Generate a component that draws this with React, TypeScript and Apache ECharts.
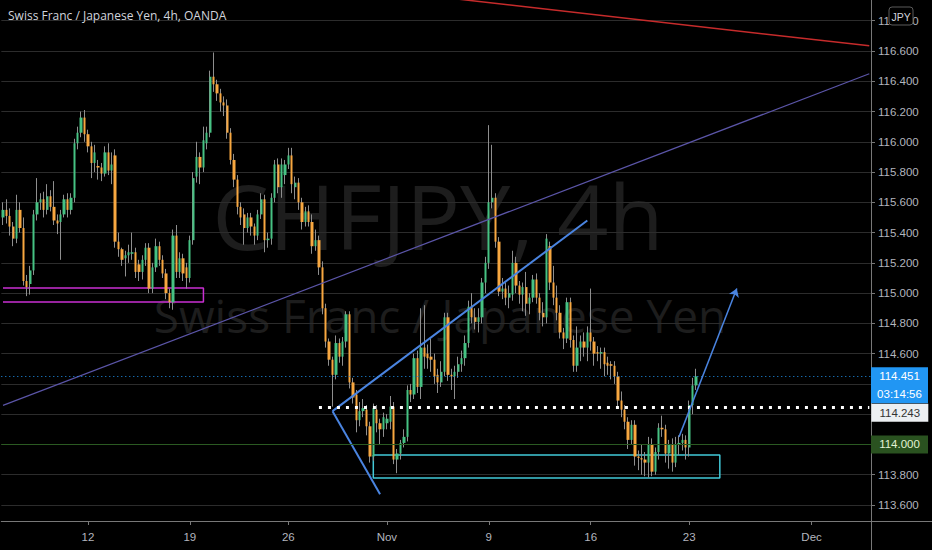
import React, { useEffect, useRef } from 'react';
import * as echarts from 'echarts';

// ---------- data ----------
const barCount = 256;
const tickIndex = [25, 55, 84, 113, 143, 173, 202, 238];
const tickLabels = ['12', '19', '26', 'Nov', '9', '16', '23', 'Dec'];
const priceTicks = [113.6, 113.8, 114.0, 114.2, 114.4, 114.6, 114.8, 115.0, 115.2, 115.4, 115.6, 115.8, 116.0, 116.2, 116.4, 116.6, 116.8];
// labels hidden behind the price boxes on the right axis are not drawn
const priceLabels = [113.6, 113.8, 114.6, 114.8, 115.0, 115.2, 115.4, 115.6, 115.8, 116.0, 116.2, 116.4, 116.6, 116.8];
const priceMin = 113.494;
const priceMax = 116.937;

// [open, close, low, high]
const candles: number[][] = [
  [115.50, 115.55, 115.45, 115.60], [115.55, 115.51, 115.46, 115.62], [115.51, 115.44, 115.38, 115.56], [115.44, 115.36, 115.31, 115.47],
  [115.36, 115.55, 115.33, 115.65], [115.55, 115.43, 115.40, 115.60], [115.43, 115.08, 115.05, 115.50], [115.08, 115.04, 114.98, 115.12],
  [115.06, 115.15, 114.99, 115.18], [115.15, 115.52, 115.12, 115.55], [115.52, 115.60, 115.48, 115.76], [115.60, 115.62, 115.55, 115.66],
  [115.62, 115.55, 115.50, 115.67], [115.55, 115.64, 115.52, 115.72], [115.64, 115.57, 115.54, 115.68], [115.57, 115.48, 115.45, 115.74],
  [115.48, 115.46, 115.39, 115.52], [115.47, 115.52, 115.22, 115.55], [115.52, 115.62, 115.50, 115.65], [115.62, 115.55, 115.50, 115.66],
  [115.55, 115.63, 115.52, 115.66], [115.63, 115.99, 115.60, 116.02], [115.99, 116.06, 115.95, 116.10], [116.06, 116.16, 116.03, 116.20],
  [116.16, 116.05, 116.00, 116.21], [116.05, 115.97, 115.93, 116.08], [115.97, 115.86, 115.76, 116.00], [115.86, 115.93, 115.80, 115.98],
  [115.84, 115.83, 115.75, 115.88], [115.83, 115.79, 115.74, 115.86], [115.79, 115.93, 115.77, 115.97], [115.93, 115.81, 115.78, 115.99],
  [115.81, 115.85, 115.72, 115.93], [115.91, 115.34, 115.30, 115.95], [115.34, 115.29, 115.24, 115.40], [115.29, 115.22, 115.18, 115.30],
  [115.23, 115.25, 115.11, 115.28], [115.25, 115.27, 115.20, 115.32], [115.26, 115.27, 115.22, 115.40], [115.27, 115.14, 115.10, 115.30],
  [115.19, 115.14, 115.08, 115.22], [115.14, 115.22, 115.09, 115.25], [115.22, 115.30, 115.18, 115.33], [115.30, 115.03, 115.00, 115.33],
  [115.03, 115.17, 115.00, 115.20], [115.17, 115.31, 115.14, 115.36], [115.31, 115.22, 115.18, 115.34], [115.22, 115.13, 115.10, 115.25],
  [115.13, 115.00, 114.96, 115.16], [115.00, 114.94, 114.90, 115.03], [114.94, 115.38, 114.89, 115.42], [115.38, 115.14, 115.10, 115.45],
  [115.14, 115.23, 115.10, 115.27], [115.23, 115.13, 115.08, 115.26], [115.17, 115.10, 115.03, 115.20], [115.10, 115.35, 115.07, 115.38],
  [115.35, 115.76, 115.32, 115.80], [115.77, 115.90, 115.73, 116.00], [115.90, 115.83, 115.72, 115.93], [115.83, 116.01, 115.80, 116.10],
  [115.99, 116.06, 115.95, 116.10], [116.06, 116.43, 116.03, 116.47], [116.43, 116.38, 116.33, 116.59], [116.38, 116.32, 116.27, 116.41],
  [116.32, 116.26, 116.20, 116.35], [116.26, 116.24, 116.17, 116.30], [116.24, 116.06, 116.02, 116.28], [116.06, 115.88, 115.85, 116.09],
  [115.88, 115.75, 115.70, 115.92], [115.75, 115.57, 115.52, 115.78], [115.57, 115.50, 115.45, 115.60], [115.52, 115.43, 115.32, 115.56],
  [115.43, 115.50, 115.40, 115.53], [115.50, 115.44, 115.38, 115.53], [115.44, 115.38, 115.32, 115.46], [115.38, 115.52, 115.35, 115.55],
  [115.52, 115.62, 115.49, 115.66], [115.62, 115.35, 115.27, 115.65], [115.35, 115.36, 115.30, 115.40], [115.36, 115.63, 115.32, 115.66],
  [115.63, 115.85, 115.60, 115.88], [115.85, 115.70, 115.66, 115.89], [115.70, 115.85, 115.63, 115.89], [115.78, 115.85, 115.72, 115.88],
  [115.85, 115.91, 115.82, 115.96], [115.91, 115.72, 115.66, 115.96], [115.70, 115.73, 115.62, 115.77], [115.73, 115.60, 115.55, 115.76],
  [115.60, 115.47, 115.42, 115.63], [115.47, 115.54, 115.44, 115.57], [115.54, 115.47, 115.44, 115.58], [115.47, 115.31, 115.26, 115.52],
  [115.31, 115.35, 115.28, 115.42], [115.35, 115.17, 115.12, 115.38], [115.17, 114.90, 114.86, 115.21], [114.90, 114.68, 114.64, 114.93],
  [114.68, 114.56, 114.52, 114.70], [114.56, 114.46, 114.25, 114.58], [114.46, 114.67, 114.43, 114.72], [114.67, 114.58, 114.54, 114.70],
  [114.58, 114.68, 114.52, 114.71], [114.68, 114.86, 114.64, 114.88], [114.86, 114.41, 114.37, 114.88], [114.41, 114.31, 114.27, 114.44],
  [114.33, 114.16, 114.08, 114.36], [114.16, 114.22, 114.12, 114.28], [114.22, 114.24, 114.18, 114.30], [114.23, 114.12, 114.06, 114.26],
  [114.12, 113.92, 113.88, 114.15], [113.92, 114.24, 113.89, 114.27], [114.23, 114.14, 114.08, 114.26], [114.14, 114.10, 114.00, 114.17],
  [114.10, 114.18, 114.05, 114.21], [114.14, 114.17, 114.10, 114.20], [114.15, 114.25, 114.10, 114.32], [114.25, 113.90, 113.87, 114.28],
  [113.90, 113.94, 113.81, 113.97], [113.94, 114.01, 113.90, 114.03], [114.01, 114.05, 113.98, 114.10], [114.05, 114.36, 114.02, 114.39],
  [114.36, 114.33, 114.28, 114.40], [114.33, 114.57, 114.30, 114.60], [114.57, 114.38, 114.34, 114.62], [114.38, 114.64, 114.30, 114.90],
  [114.64, 114.58, 114.50, 114.92], [114.60, 114.57, 114.50, 114.66], [114.58, 114.56, 114.48, 114.70], [114.56, 114.45, 114.40, 114.60],
  [114.46, 114.41, 114.34, 114.50], [114.41, 114.48, 114.38, 114.55], [114.48, 114.84, 114.45, 114.87], [114.84, 114.46, 114.42, 114.87],
  [114.46, 114.45, 114.36, 114.50], [114.45, 114.48, 114.30, 114.52], [114.48, 114.53, 114.44, 114.58], [114.53, 114.57, 114.48, 114.62],
  [114.57, 114.67, 114.52, 114.72], [114.67, 114.91, 114.64, 114.95], [114.91, 114.84, 114.80, 115.00], [114.84, 114.81, 114.76, 114.90],
  [114.81, 114.84, 114.74, 114.90], [114.84, 115.07, 114.80, 115.10], [115.07, 115.20, 115.00, 115.24], [115.20, 115.60, 115.16, 116.11],
  [115.60, 115.63, 115.56, 115.98], [115.63, 115.34, 115.30, 115.66], [115.34, 115.01, 114.98, 115.37], [115.01, 115.03, 114.96, 115.10],
  [115.03, 114.97, 114.92, 115.07], [114.97, 115.00, 114.90, 115.05], [114.99, 115.20, 114.95, 115.28], [115.20, 115.05, 115.00, 115.24],
  [115.05, 114.99, 114.93, 115.08], [114.99, 115.04, 114.88, 115.07], [115.04, 114.93, 114.85, 115.14], [114.93, 114.97, 114.86, 115.00],
  [114.97, 115.09, 114.94, 115.12], [115.09, 114.97, 114.93, 115.13], [114.97, 114.87, 114.82, 115.00], [114.87, 114.84, 114.78, 114.94],
  [114.84, 115.36, 114.80, 115.39], [115.31, 115.07, 115.02, 115.34], [115.07, 114.97, 114.92, 115.18], [114.97, 114.87, 114.82, 115.05],
  [114.87, 114.74, 114.70, 114.92], [114.74, 114.70, 114.63, 114.77], [114.70, 114.94, 114.67, 114.97], [114.94, 114.69, 114.64, 114.97],
  [114.69, 114.52, 114.48, 114.72], [114.52, 114.64, 114.48, 114.78], [114.64, 114.68, 114.55, 114.72], [114.68, 114.64, 114.58, 114.74],
  [114.64, 114.74, 114.55, 114.78], [114.74, 114.68, 114.62, 115.03], [114.68, 114.60, 114.52, 114.71], [114.61, 114.60, 114.55, 114.65],
  [114.60, 114.61, 114.50, 114.64], [114.61, 114.53, 114.45, 114.64], [114.54, 114.52, 114.46, 114.58], [114.53, 114.52, 114.43, 114.55],
  [114.52, 114.45, 114.40, 114.55], [114.45, 114.29, 114.25, 114.48], [114.29, 114.23, 114.18, 114.35], [114.23, 114.15, 114.10, 114.26],
  [114.15, 114.03, 113.97, 114.18], [114.03, 114.13, 114.00, 114.16], [114.13, 113.92, 113.86, 114.16], [113.92, 113.91, 113.83, 113.96],
  [113.91, 113.90, 113.80, 114.00], [113.90, 113.88, 113.79, 113.95], [113.88, 114.00, 113.78, 114.05], [114.00, 113.82, 113.79, 114.04],
  [113.82, 113.95, 113.80, 113.98], [113.95, 114.11, 113.90, 114.14], [114.11, 114.10, 114.05, 114.19], [114.10, 113.94, 113.88, 114.13],
  [113.94, 114.00, 113.84, 114.03], [114.00, 113.88, 113.82, 114.04], [113.88, 114.00, 113.85, 114.05], [114.00, 114.01, 113.93, 114.06],
  [114.01, 114.03, 113.96, 114.07], [114.03, 113.98, 113.90, 114.06], [113.98, 114.26, 113.92, 114.29], [114.26, 114.39, 114.20, 114.44],
  [114.39, 114.45, 114.36, 114.50],
];

const lastPrice = 114.451;
const countdown = '03:14:56';
const supportLevel = 114.243;
const supportStart = 93;
const roundLevel = 114.0;

const redTrend = [[130, 116.953], [255, 116.634]];
const purpleTrend = [[0, 114.258], [255, 116.45]];
const magentaZone = [[0, 115.034], [59, 115.034], [59, 114.941], [0, 114.941]];
const cyanZone = [[109, 113.93], [211, 113.93], [211, 113.778], [109, 113.778], [109, 113.93]];
const wedgeUpper = [[97, 114.22], [172, 115.48]];
const wedgeLower = [[97, 114.22], [111, 113.67]];
const projection = [[199, 114.05], [216, 115.03]];

const titleText = 'Swiss Franc / Japanese Yen, 4h, OANDA';
const watermarkMain = 'CHFJPY, 4h';
const watermarkSub = 'Swiss Franc / Japanese Yen';
const currency = 'JPY';

// ---------- styles ----------
const UP = '#46c283';
const DOWN = '#f7a740';
const WICK = '#8e8e8e';
const AXIS = '#787878';
const LABEL = '#b2b5be';
const DRAW_BLUE = '#4a84e0';
const AXIS_FONT = '"Liberation Sans", Arial, sans-serif';

export default function App() {
  const ref = useRef<HTMLDivElement>(null);

  useEffect(() => {
    document.body.style.margin = '0';
    document.body.style.background = '#000';
    if (!ref.current) return;
    const chart = echarts.init(ref.current, null, { renderer: 'svg' });

    const categories = Array.from({ length: barCount }, (_, i) => String(i));
    const labelMap: Record<number, string> = {};
    tickIndex.forEach((idx, k) => { labelMap[idx] = tickLabels[k]; });
    const bodies = candles.map(([o, c]) => [o, c, Math.min(o, c), Math.max(o, c)]);

    const boxLabel = (text: string, bg: string, fg: string, offsetY: number, dist: number) => ({
      show: true,
      position: 'end',
      distance: dist,
      offset: [0, offsetY],
      formatter: `{p|${text}}`,
      backgroundColor: bg,
      padding: 0,
      rich: { p: { color: fg, fontSize: 11.5, fontFamily: AXIS_FONT, width: 57, height: 18, lineHeight: 18, align: 'center' } },
    });

    const option: any = {
      animation: false,
      backgroundColor: '#000',
      textStyle: { fontFamily: AXIS_FONT },
      grid: { left: 0, right: 61, top: 0, bottom: 29, containLabel: false },
      xAxis: {
        type: 'category',
        data: categories,
        boundaryGap: true,
        axisLine: { show: true, lineStyle: { color: AXIS, width: 1 } },
        axisTick: {
          show: true,
          alignWithLabel: true,
          length: 4,
          interval: (i: number) => labelMap[i] !== undefined,
          lineStyle: { color: AXIS },
        },
        axisLabel: {
          interval: 0,
          formatter: (_v: string, i: number) => labelMap[i] ?? '',
          color: LABEL,
          fontSize: 11.5,
          fontFamily: AXIS_FONT,
          margin: 10,
        },
        splitLine: { show: false },
      },
      yAxis: {
        type: 'value',
        position: 'right',
        min: priceMin,
        max: priceMax,
        axisLine: { show: true, lineStyle: { color: AXIS, width: 1 } },
        axisTick: { show: true, length: 4, customValues: priceTicks, lineStyle: { color: AXIS } },
        axisLabel: {
          customValues: priceLabels,
          formatter: (v: number) => v.toFixed(3),
          color: LABEL,
          fontSize: 11.5,
          fontFamily: AXIS_FONT,
          margin: 7,
        },
        splitLine: { show: true, lineStyle: { color: '#2c2c2c', width: 1 } },
      },
      graphic: [
        {
          type: 'text', x: 438, y: 215, z: -1, silent: true,
          style: { text: watermarkMain, fill: '#1d1d1d', font: '90px "Open Sans", sans-serif', align: 'center', verticalAlign: 'middle' },
        },
        {
          type: 'text', x: 440, y: 315, z: -1, silent: true,
          style: { text: watermarkSub, fill: '#1d1d1d', font: '46px "Open Sans", sans-serif', align: 'center', verticalAlign: 'middle' },
        },
        {
          type: 'text', x: 8, y: 15, z: 100, silent: true,
          style: { text: titleText, fill: '#d1d4dc', font: '12px "Open Sans", sans-serif', align: 'left', verticalAlign: 'middle' },
        },
        { type: 'line', z: 100, silent: true, shape: { x1: 871.5, y1: 521, x2: 871.5, y2: 550 }, style: { stroke: AXIS, lineWidth: 1 } },
        { type: 'line', z: 100, silent: true, shape: { x1: 871, y1: 521.5, x2: 932, y2: 521.5 }, style: { stroke: AXIS, lineWidth: 1 } },
        { type: 'rect', z: 100, silent: true, shape: { x: 889, y: 7, width: 24, height: 18, r: 3 }, style: { fill: '#000', stroke: '#5a5a5a', lineWidth: 1 } },
        {
          type: 'text', x: 901, y: 16.5, z: 101, silent: true,
          style: { text: currency, fill: '#d1d4dc', font: '10.5px "Liberation Sans", Arial, sans-serif', align: 'center', verticalAlign: 'middle' },
        },
      ],
      series: [
        {
          name: 'zoneMagenta', type: 'line', data: magentaZone, symbol: 'none', silent: true, z: 1,
          lineStyle: { color: '#c92fd2', width: 1.5 },
        },
        {
          name: 'zoneCyan', type: 'line', data: cyanZone, symbol: 'none', silent: true, z: 1,
          lineStyle: { color: '#42c9d8', width: 1.5 },
        },
        {
          name: 'wicks', type: 'candlestick', data: candles, barWidth: 1, silent: true, z: 2,
          itemStyle: { color: WICK, color0: WICK, borderColor: WICK, borderColor0: WICK, borderWidth: 1 },
        },
        {
          name: 'bodies', type: 'candlestick', data: bodies, barWidth: 2.8, silent: true, z: 2,
          itemStyle: { color: UP, color0: DOWN, borderColor: UP, borderColor0: DOWN, borderWidth: 0 },
          markLine: {
            silent: true,
            symbol: 'none',
            animation: false,
            z: 10,
            data: [
              {
                yAxis: lastPrice,
                lineStyle: { color: '#2196f3', type: [1, 3], width: 1 },
                label: {
                  show: true,
                  position: 'end',
                  distance: 0,
                  offset: [0, 9],
                  formatter: `{p|${lastPrice.toFixed(3)}}\n{p|${countdown}}`,
                  backgroundColor: '#2196f3',
                  padding: 0,
                  rich: { p: { color: '#ffffff', fontSize: 11.5, fontFamily: AXIS_FONT, width: 57, height: 18, lineHeight: 18, align: 'center' } },
                },
              },
              {
                yAxis: roundLevel,
                lineStyle: { color: '#2b5a22', type: 'solid', width: 1 },
                label: boxLabel(roundLevel.toFixed(3), '#2a5220', '#e2f3d4', 0, 0),
              },
              [
                {
                  coord: [supportStart, supportLevel],
                  lineStyle: { color: '#ffffff', type: [3, 6], width: 3 },
                  label: boxLabel(supportLevel.toFixed(3), '#eceff2', '#333333', 5, 2),
                },
                { coord: [barCount - 1, supportLevel] },
              ],
              [
                {
                  coord: projection[0],
                  symbol: 'none',
                  lineStyle: { color: DRAW_BLUE, type: 'solid', width: 1.5 },
                  label: { show: false },
                },
                { coord: projection[1], symbol: 'arrow', symbolSize: 8 },
              ],
            ],
          },
        },
        {
          name: 'trendRed', type: 'line', data: redTrend, symbol: 'none', silent: true, z: 3, clip: true,
          lineStyle: { color: '#c62b2b', width: 1.5 },
        },
        {
          name: 'trendPurple', type: 'line', data: purpleTrend, symbol: 'none', silent: true, z: 3, clip: true,
          lineStyle: { color: '#5b55a8', width: 1.2 },
        },
        {
          name: 'wedgeUpper', type: 'line', data: wedgeUpper, symbol: 'none', silent: true, z: 3,
          lineStyle: { color: DRAW_BLUE, width: 2 },
        },
        {
          name: 'wedgeLower', type: 'line', data: wedgeLower, symbol: 'none', silent: true, z: 3,
          lineStyle: { color: DRAW_BLUE, width: 2 },
        },
      ],
    };

    chart.setOption(option);
    return () => chart.dispose();
  }, []);

  return <div ref={ref} style={{ width: 932, height: 550, background: '#000' }} />;
}
